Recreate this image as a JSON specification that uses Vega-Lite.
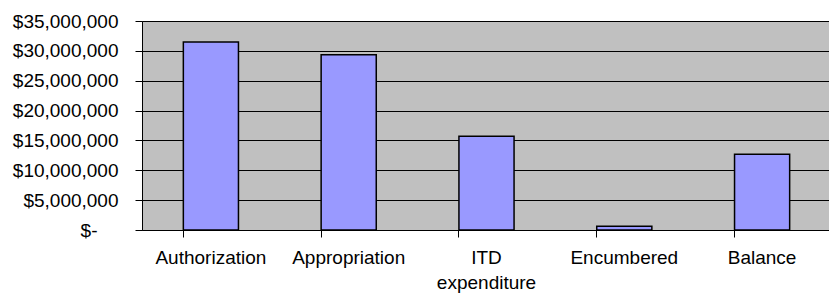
{
  "$schema": "https://vega.github.io/schema/vega-lite/v6.json",
  "autosize": {"type": "none"},
  "padding": {"left": 142, "top": 21, "right": 0, "bottom": 66},
  "width": 689,
  "height": 209,
  "background": "white",
  "config": {
    "font": "Liberation Sans",
    "view": {"fill": "#C0C0C0", "stroke": "#808080", "strokeWidth": 1},
    "axis": {"labelColor": "black", "labelFont": "Liberation Sans", "labelFontSize": 19, "domainColor": "black", "tickColor": "black", "gridColor": "black", "gridOpacity": 1, "titleFontSize": 12}
  },
  "data": {"values": [
    {"category": "Authorization", "amount": 31500000},
    {"category": "Appropriation", "amount": 29350000},
    {"category": "ITD expenditure", "amount": 15700000},
    {"category": "Encumbered", "amount": 620000},
    {"category": "Balance", "amount": 12700000}
  ]},
  "mark": {"type": "bar", "fill": "#9999FF", "stroke": "black", "strokeWidth": 1.5},
  "encoding": {
    "x": {
      "field": "category", "type": "nominal", "sort": null, "title": null,
      "scale": {"paddingInner": 0.6, "paddingOuter": 0.3},
      "axis": {"labelAngle": 0, "bandPosition": 0, "tickSize": 7, "labelPadding": 11, "grid": false, "domainWidth": 1, "labelLineHeight": 25,
        "labelExpr": "datum.label == 'ITD expenditure' ? ['ITD', 'expenditure'] : datum.label"}
    },
    "y": {
      "field": "amount", "type": "quantitative", "title": null,
      "scale": {"domain": [0, 35000000], "nice": false},
      "axis": {"values": [0, 5000000, 10000000, 15000000, 20000000, 25000000, 30000000, 35000000], "tickSize": 7,
        "labelPadding": {"condition": {"test": "datum.value == 0", "value": 38}, "value": 17},
        "grid": true, "gridWidth": 1, "domainWidth": 1,
        "labelExpr": "datum.value == 0 ? '$-' : '$' + format(datum.value, ',')"}
    }
  }
}
